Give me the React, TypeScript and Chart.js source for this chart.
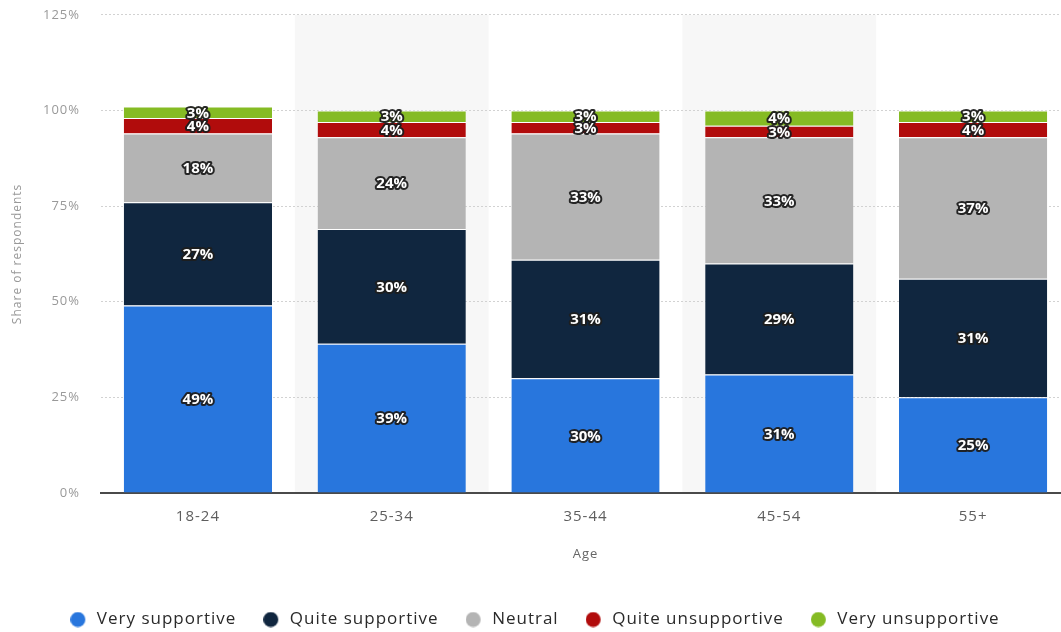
import React, { useEffect, useRef } from "react";
import { Chart, registerables } from "chart.js";

Chart.register(...registerables);

const categories = ["18-24", "25-34", "35-44", "45-54", "55+"];
const verySupportive = [49, 39, 30, 31, 25];
const quiteSupportive = [27, 30, 31, 29, 31];
const neutral = [18, 24, 33, 33, 37];
const quiteUnsupportive = [4, 4, 3, 3, 4];
const veryUnsupportive = [3, 3, 3, 4, 3];
const seriesNames = [
  "Very supportive",
  "Quite supportive",
  "Neutral",
  "Quite unsupportive",
  "Very unsupportive",
];
const seriesColors = ["#2876dd", "#10263f", "#b4b4b4", "#b10c0c", "#85bb24"];
const yMin = 0;
const yMax = 125;
const yStep = 25;

const FONT = "'Open Sans', 'Noto Sans', sans-serif";
const CANVAS_W = 1070;
const CANVAS_H = 638;

function makeDot(color: string) {
  const c = document.createElement("canvas");
  c.width = 18;
  c.height = 16;
  const g = c.getContext("2d")!;
  g.fillStyle = color;
  g.beginPath();
  g.arc(7.5, 8, 7.5, 0, Math.PI * 2);
  g.fill();
  return c;
}

const spacingPlugin = {
  id: "letterSpacing",
  beforeUpdate(chart: any) {
    chart.ctx.letterSpacing = "1px";
  },
  beforeLayout(chart: any) {
    chart.ctx.letterSpacing = "1px";
  },
  beforeDraw(chart: any) {
    chart.ctx.letterSpacing = "1px";
  },
};

const bandPlugin = {
  id: "bands",
  beforeDraw(chart: any) {
    const { ctx, chartArea, scales } = chart;
    const x = scales.x;
    const step = (x.right - x.left) / categories.length;
    ctx.save();
    ctx.fillStyle = "#f7f7f7";
    categories.forEach((_c, i) => {
      if (i % 2 === 1) {
        const cx = x.getPixelForValue(i);
        ctx.fillRect(cx - step / 2, chartArea.top, step, chartArea.bottom - chartArea.top);
      }
    });
    ctx.restore();
  },
};

const labelPlugin = {
  id: "segmentLabels",
  afterDatasetsDraw(chart: any) {
    const ctx = chart.ctx;
    ctx.save();
    ctx.letterSpacing = "0px";
    ctx.font = `bold 15px ${FONT}`;
    ctx.textAlign = "center";
    ctx.textBaseline = "middle";
    ctx.lineJoin = "round";
    chart.data.datasets.forEach((ds: any, di: number) => {
      const meta = chart.getDatasetMeta(di);
      meta.data.forEach((el: any, i: number) => {
        const v = ds.data[i];
        const { x, y, base } = el.getProps(["x", "y", "base"], true);
        const cy = (y + base) / 2 + 1;
        const t = `${v}%`;
        ctx.lineWidth = 4;
        ctx.strokeStyle = "rgba(30,30,30,0.95)";
        ctx.strokeText(t, x, cy);
        ctx.fillStyle = "#ffffff";
        ctx.fillText(t, x, cy);
      });
    });
    ctx.restore();
  },
};

export default function App() {
  const canvasRef = useRef<HTMLCanvasElement | null>(null);

  useEffect(() => {
    const canvas = canvasRef.current;
    if (!canvas) return;
    const values = [verySupportive, quiteSupportive, neutral, quiteUnsupportive, veryUnsupportive];
    const dots = seriesColors.map(makeDot);
    const chart = new Chart(canvas, {
      type: "bar",
      data: {
        labels: categories,
        datasets: values.map((data, i) => ({
          label: seriesNames[i],
          data,
          backgroundColor: seriesColors[i],
          borderColor: "#ffffff",
          borderWidth: { top: 1, right: 0, bottom: 0, left: 0 },
          borderSkipped: false as any,
          categoryPercentage: 1,
          barPercentage: 0.765,
        })),
      },
      options: {
        responsive: false,
        animation: false,
        events: [],
        devicePixelRatio: 1,
        layout: { padding: { top: 0, right: 0, bottom: 0, left: 0 } },
        plugins: {
          tooltip: { enabled: false },
          legend: {
            display: true,
            position: "bottom",
            labels: {
              usePointStyle: true,
              pointStyleWidth: 18,
              boxHeight: 14,
              padding: 27,
              color: "#2a2a2a",
              font: { size: 17, family: FONT, weight: "500" },
              generateLabels(ch: any) {
                const items = (Chart.defaults.plugins.legend.labels as any).generateLabels(ch);
                return items.map((it: any, i: number) => ({ ...it, pointStyle: dots[i], lineWidth: 0 }));
              },
            },
          },
        },
        scales: {
          x: {
            stacked: true,
            grid: { display: false, drawTicks: false },
            border: { display: true, color: "#4a4a4a", width: 2 },
            ticks: { color: "#5e5e5e", font: { size: 15, family: FONT }, padding: 15 },
            title: {
              display: true,
              text: "Age",
              color: "#666666",
              font: { size: 13, family: FONT },
              padding: { top: 0, bottom: 22 },
            },
            afterFit(scale: any) {
              scale.height = 91;
            },
          },
          y: {
            stacked: true,
            min: yMin,
            max: yMax,
            ticks: {
              stepSize: yStep,
              color: "#999999",
              font: { size: 13, family: FONT, weight: "500" },
              padding: 7,
              callback: (v: any) => `${v}%`,
            },
            grid: {
              color: "#d2d2d2",
              drawTicks: true,
              tickLength: 14,
              tickColor: "rgba(0,0,0,0)",
              lineWidth: 1,
            },
            border: { display: false, dash: [2, 2] },
            title: {
              display: true,
              text: "Share of respondents",
              color: "#999999",
              font: { size: 12, family: FONT },
              padding: { top: 10, bottom: 0 },
            },
            afterFit(scale: any) {
              scale.width = 101;
            },
          },
        },
      },
      plugins: [spacingPlugin, bandPlugin, labelPlugin],
    } as any);
    return () => chart.destroy();
  }, []);

  return (
    <div
      style={{
        position: "fixed",
        left: 0,
        top: 0,
        width: 1061,
        height: 632,
        overflow: "hidden",
        background: "#ffffff",
      }}
    >
      <canvas
        ref={canvasRef}
        width={CANVAS_W}
        height={CANVAS_H}
        style={{ width: CANVAS_W, height: CANVAS_H, display: "block" }}
      />
    </div>
  );
}
